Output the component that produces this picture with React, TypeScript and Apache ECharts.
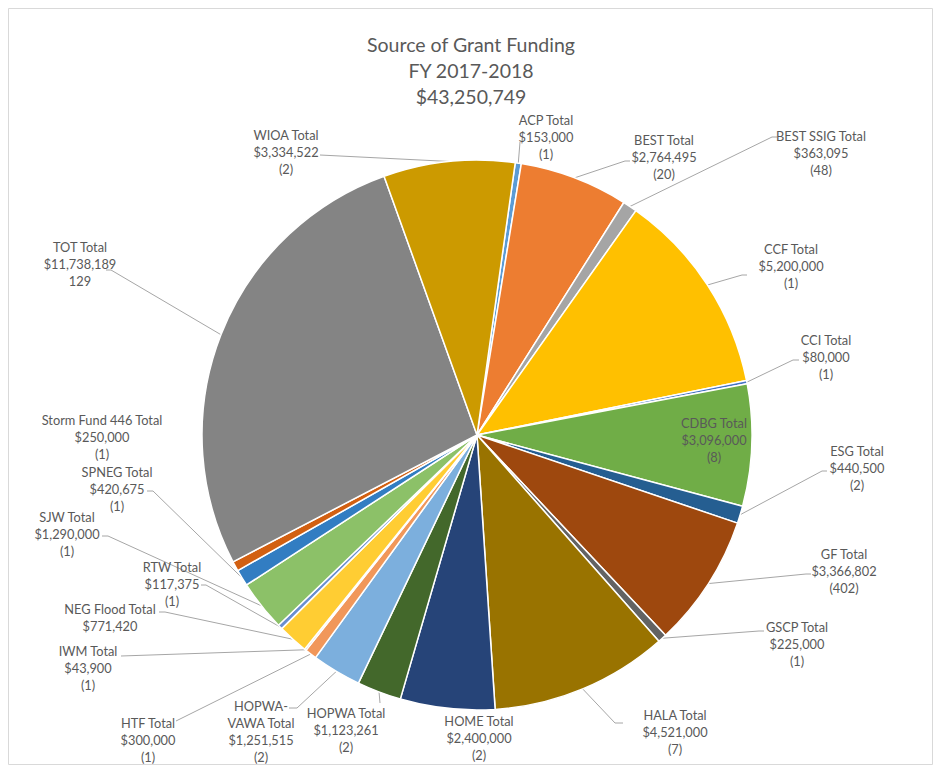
import React, { useEffect, useRef } from "react";
import * as echarts from "echarts";

// ---- Data ----
const titleLines = ["Source of Grant Funding", "FY 2017-2018", "$43,250,749"];
const categories = [
  "ACP", "BEST", "BEST SSIG", "CCF", "CCI", "CDBG", "ESG", "GF", "GSCP", "HALA", "HOME",
  "HOPWA", "HOPWA-VAWA", "HTF", "IWM", "NEG Flood", "RTW", "SJW", "SPNEG", "Storm Fund 446", "TOT", "WIOA",
];
const amounts = [
  153000, 2764495, 363095, 5200000, 80000, 3096000, 440500, 3366802, 225000, 4521000, 2400000,
  1123261, 1251515, 300000, 43900, 771420, 117375, 1290000, 420675, 250000, 11738189, 3334522,
];
const countLabels = [
  "(1)", "(20)", "(48)", "(1)", "(1)", "(8)", "(2)", "(402)", "(1)", "(7)", "(2)",
  "(2)", "(2)", "(1)", "(1)", "", "(1)", "(1)", "(1)", "(1)", "129", "(2)",
];

// ---- Styles ----
const colors = [
  "#5B9BD5", "#ED7D31", "#A5A5A5", "#FFC000", "#4472C4", "#70AD47", "#255E91", "#9E480E", "#636363", "#997300", "#264478",
  "#43682B", "#7CAFDD", "#F1975A", "#B7B7B7", "#FFCD33", "#698ED0", "#8CC168", "#327DC2", "#D26012", "#848484", "#CC9A00",
];

// label placement (layout only): label centre, optional leader-line elbow / end
type Spot = { x: number; y: number; end?: number[]; elbow?: number[] };
const labelSpots: Spot[] = [
  { x: 546, y: 137, end: [520, 142] },
  { x: 664, y: 157, elbow: [625, 161], end: [630, 161] },
  { x: 821, y: 153, elbow: [772, 137], end: [777, 137] },
  { x: 791, y: 266, elbow: [742, 275], end: [747, 275] },
  { x: 826, y: 357, elbow: [793, 360], end: [799, 360] },
  { x: 714, y: 440 },
  { x: 857, y: 468, elbow: [822, 471], end: [827, 471] },
  { x: 844, y: 571, elbow: [806, 574], end: [811, 574] },
  { x: 797, y: 644, elbow: [759, 631], end: [764, 631] },
  { x: 675, y: 732, elbow: [615, 723], end: [623, 723] },
  { x: 479, y: 738 },
  { x: 346, y: 730, end: [380, 703] },
  { x: 261, y: 731, elbow: [297, 708], end: [289, 708] },
  { x: 148, y: 740, end: [176, 721] },
  { x: 88, y: 668, end: [121, 656] },
  { x: 110, y: 617, elbow: [165, 612], end: [159, 612] },
  { x: 172, y: 584, elbow: [206, 585], end: [201, 585] },
  { x: 67, y: 534, elbow: [108, 536], end: [102, 536] },
  { x: 117, y: 489, elbow: [153, 491], end: [147, 491] },
  { x: 102, y: 437 },
  { x: 80, y: 264, elbow: [111, 270], end: [106, 270] },
  { x: 286, y: 152, end: [320, 155] },
];

const FONT = "Lato, 'Open Sans', sans-serif";

export default function App() {
  const ref = useRef<HTMLDivElement>(null);
  useEffect(() => {
    if (!ref.current) return;
    const chart = echarts.init(ref.current, undefined, { renderer: "svg" });
    const data = categories.map((name, i) => ({
      name,
      value: amounts[i],
      itemStyle: { color: colors[i] },
      labelLine: { show: !!labelSpots[i].end },
    }));
    chart.setOption({
      animation: false,
      backgroundColor: "#ffffff",
      graphic: [
        {
          type: "rect",
          shape: { x: 8.5, y: 8.5, width: 924, height: 756 },
          style: { fill: "none", stroke: "#D9D9D9", lineWidth: 1 },
          silent: true,
        },
        {
          type: "text",
          x: 471,
          y: 31,
          style: {
            text: titleLines.join("\n"),
            align: "center",
            verticalAlign: "top",
            fontFamily: FONT,
            fontSize: 19.5,
            lineHeight: 26,
            fill: "#595959",
          },
          silent: true,
        },
      ],
      series: [
        {
          type: "pie",
          center: [477, 435],
          radius: 275,
          startAngle: 82,
          clockwise: true,
          avoidLabelOverlap: false,
          silent: true,
          data,
          itemStyle: { borderColor: "#ffffff", borderWidth: 1.5 },
          label: {
            show: true,
            position: "outside",
            overflow: "none",
            fontFamily: FONT,
            fontSize: 12.8,
            lineHeight: 17,
            color: "#595959",
            align: "center",
            formatter: (p: any) => {
              const i = p.dataIndex;
              const nm = String(p.name).replace("HOPWA-VAWA", "HOPWA-\nVAWA");
              const val = "$" + Number(p.value).toLocaleString("en-US");
              const c = countLabels[i];
              return `${nm} Total\n${val}` + (c ? `\n${c}` : "");
            },
          },
          labelLine: {
            show: true,
            length: 10,
            length2: 10,
            smooth: false,
            lineStyle: { color: "#A6A6A6", width: 1 },
          },
          labelLayout: (params: any) => {
            const s = labelSpots[params.dataIndex];
            const res: any = { x: s.x, y: s.y, align: "center", verticalAlign: "middle" };
            if (s.end && params.labelLinePoints) {
              const p0 = params.labelLinePoints[0];
              const elbow = s.elbow || s.end;
              res.labelLinePoints = [p0, elbow, s.end];
            }
            return res;
          },
        },
      ],
    });
    return () => chart.dispose();
  }, []);
  return (
    <div
      ref={ref}
      style={{ position: "absolute", left: 0, top: 0, width: 935, height: 769 }}
    />
  );
}
